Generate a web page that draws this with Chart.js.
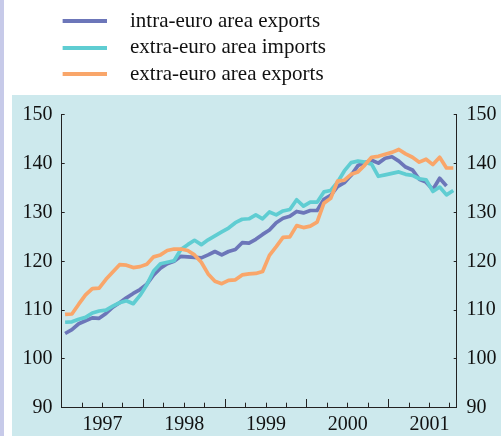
<!DOCTYPE html>
<html><head><meta charset="utf-8">
<script src="https://cdn.jsdelivr.net/npm/chart.js@4"></script>
<style>
html,body{margin:0;padding:0;background:#fff;}
#wrap{position:relative;width:501px;height:436px;overflow:hidden;font-family:"Liberation Serif",serif;}
#strip{position:absolute;left:0;top:0;width:4px;height:436px;background:#c7cae9;}
#panel{position:absolute;left:12px;top:95px;width:489px;height:341px;background:#cde9ed;}
#c{position:absolute;left:0;top:0;}
</style></head><body>
<div id="wrap"><div id="strip"></div><div id="panel"></div><canvas id="c" width="501" height="436"></canvas></div>
<script>
// Monthly index values, January 1997 onwards
const seriesNames = ['intra-euro area exports', 'extra-euro area imports', 'extra-euro area exports'];
const intraExports = [105.2,106.0,107.2,107.8,108.4,108.3,109.3,110.6,111.5,112.5,113.4,114.2,
  115.3,117.2,118.6,119.5,120.0,121.0,120.9,120.8,120.7,121.3,122.0,121.3,
  122.0,122.4,123.8,123.7,124.5,125.5,126.4,127.9,128.8,129.2,130.2,129.9,
  130.4,130.4,132.7,133.5,135.3,136.1,137.6,139.6,140.2,140.7,140.1,141.1,
  141.4,140.5,139.3,138.7,136.8,136.2,134.7,137.0,135.4];
const extraImports = [107.5,107.6,108.1,108.5,109.4,109.8,110.0,110.8,111.5,111.9,111.3,113.0,
  115.2,118.0,119.5,119.8,120.1,122.4,123.4,124.3,123.4,124.4,125.2,126.0,
  126.8,127.9,128.6,128.7,129.5,128.7,130.1,129.5,130.3,130.6,132.6,131.3,
  132.1,132.1,134.2,134.5,136.2,138.5,140.2,140.5,140.3,139.9,137.4,137.7,
  138.0,138.3,137.8,137.6,136.9,136.7,134.3,135.2,133.6,134.5];
const extraExports = [109.1,109.2,111.2,113.1,114.4,114.5,116.3,117.8,119.3,119.2,118.7,118.9,
  119.4,120.9,121.3,122.2,122.5,122.5,122.2,121.3,119.8,117.4,115.9,115.4,
  116.1,116.2,117.2,117.4,117.5,117.9,121.2,123.0,124.9,125.0,127.3,126.9,
  127.2,128.0,131.9,132.9,136.4,136.6,137.8,138.3,139.7,141.3,141.5,141.9,
  142.3,142.9,142.0,141.3,140.3,140.9,139.8,141.3,139.1,139.1];
const yearLabels = ['1997','1998','1999','2000','2001'];
const yTickValues = [90,100,110,120,130,140,150];
const colors = ['#6c76b9', '#5fcdd2', '#f9a66a'];

const monthsShown = 58;
const quarterTicks = []; for (let m = 0; m < monthsShown; m += 3) quarterTicks.push(m);
const yearTicks = []; for (let m = 0; m < monthsShown; m += 12) yearTicks.push(m);

function toPoints(arr){ return arr.map((v,i)=>({x:i+0.5, y:v})); }
function swatch(color){
  const c = document.createElement('canvas');
  c.width = 88; c.height = 4;
  const g = c.getContext('2d');
  g.fillStyle = color; g.fillRect(44,0,44,4);
  return c;
}
const serif = '"Liberation Serif", serif';
Chart.defaults.font.family = serif;
const seriesData = [intraExports, extraImports, extraExports];
const drawOrder = [3,2,1];

function draw(){
  const datasets = seriesData.map((arr,k)=>({
    label: seriesNames[k],
    data: toPoints(arr),
    borderColor: colors[k],
    backgroundColor: colors[k],
    borderWidth: 3.7,
    pointRadius: 0,
    pointHoverRadius: 0,
    pointStyle: swatch(colors[k]),
    tension: 0,
    borderJoinStyle: 'round',
    order: drawOrder[k]
  }));

  const axisColor = '#222';
  const tickFont = {family: serif, size: 20};

  new Chart(document.getElementById('c'), {
    type: 'line',
    data: { datasets },
    options: {
      responsive: false,
      devicePixelRatio: 1,
      animation: false,
      events: [],
      layout: { padding: { top: 4.8, left: 0, right: 0, bottom: 0 } },
      plugins: {
        tooltip: { enabled: false },
        legend: {
          position: 'top', align: 'start',
          labels: {
            usePointStyle: true, pointStyleWidth: 113.8, padding: 5.7,
            color: '#111', font: { family: serif, size: 21 },
            sort: (a,b)=>a.datasetIndex-b.datasetIndex
          }
        }
      },
      scales: {
        x: {
          type: 'linear', position: 'bottom', min: 0, max: monthsShown,
          afterBuildTicks: s => { s.ticks = quarterTicks.map(v=>({value:v})); },
          afterFit: s => { s.height = 28.3; },
          grid: { drawOnChartArea: false, drawTicks: true, tickLength: -5, color: axisColor, lineWidth: 1 },
          border: { display: true, color: axisColor, width: 1 },
          ticks: {
            autoSkip: false, maxRotation: 0, padding: 10, color: '#111', font: tickFont,
            callback: v => (v % 12 === 6) ? yearLabels[(v-6)/12] : ''
          }
        },
        xYear: {
          type: 'linear', axis: 'x', position: { y: 90 }, min: 0, max: monthsShown,
          afterBuildTicks: s => { s.ticks = yearTicks.map(v=>({value:v})); },
          afterFit: s => { s.height = 0; },
          grid: { drawOnChartArea: false, drawTicks: true, tickLength: -9, color: axisColor, lineWidth: 1 },
          border: { display: false },
          ticks: { display: false }
        },
        xTop: {
          type: 'linear', axis: 'x', position: 'top', min: 0, max: monthsShown,
          grid: { display: false }, border: { display: false }, ticks: { display: false },
          afterFit: s => { s.height = 19.9; }
        },
        y: {
          type: 'linear', position: 'left', min: 90, max: 150,
          afterBuildTicks: s => { s.ticks = yTickValues.map(v=>({value:v})); },
          afterFit: s => { s.width = 61.7; },
          grid: { drawOnChartArea: false, drawTicks: true, tickLength: -3, color: axisColor, lineWidth: 1 },
          border: { display: true, color: axisColor, width: 1 },
          ticks: { padding: 12.3, color: '#111', font: tickFont }
        },
        y2: {
          type: 'linear', position: 'right', min: 90, max: 150,
          afterBuildTicks: s => { s.ticks = yTickValues.map(v=>({value:v})); },
          afterFit: s => { s.width = 44.3; },
          grid: { drawOnChartArea: false, drawTicks: true, tickLength: -3, color: axisColor, lineWidth: 1 },
          border: { display: true, color: axisColor, width: 1 },
          ticks: { padding: 12.7, color: '#111', font: tickFont }
        }
      }
    }
  });
}
Promise.all([
  document.fonts.load('20px "Liberation Serif"'),
  document.fonts.load('21px "Liberation Serif"')
]).then(draw, draw);
</script>
</body></html>
